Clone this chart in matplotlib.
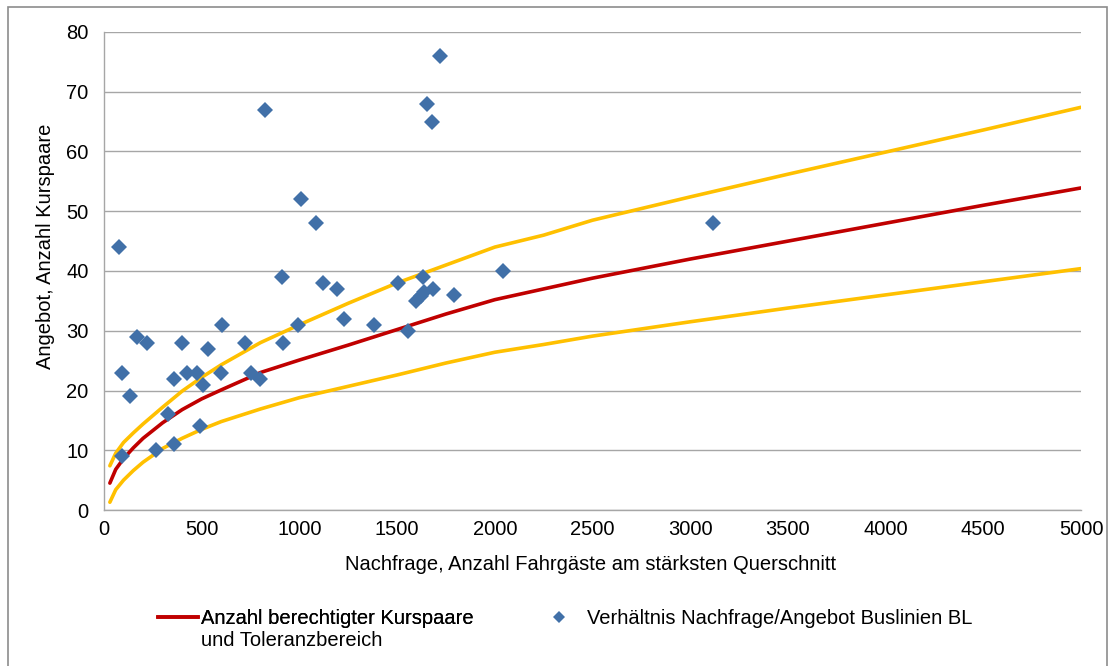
import numpy as np
import matplotlib
matplotlib.use("Agg")
import matplotlib.pyplot as plt
from matplotlib.lines import Line2D
from matplotlib.patches import Rectangle

plt.rcParams['font.family'] = ['Liberation Sans', 'DejaVu Sans']

# Scatter: demand (passengers at busiest section) vs. offer (course pairs)
demand = [77, 90, 94, 131, 167, 218, 264, 326, 360, 360, 397, 426, 476, 493,
          508, 530, 602, 599, 722, 752, 798, 824, 909, 918, 995, 1006, 1083,
          1122, 1191, 1230, 1382, 1506, 1554, 1595, 1620, 1640, 1633, 1651,
          1679, 1685, 1720, 1793, 2044, 3118]
offer = [44, 23, 9, 19, 29, 28, 10, 16, 22, 11, 28, 23, 23, 14,
         21, 27, 31, 23, 28, 23, 22, 67, 39, 28, 31, 52, 48,
         38, 37, 32, 31, 38, 30, 35, 35.8, 36.5, 39, 68,
         65, 37, 76, 36, 40, 48]

# Reference curve and tolerance band
curve_x = [30, 60, 100, 150, 200, 300, 400, 500, 600, 800, 1000, 1250, 1500,
           1750, 2000, 2250, 2500, 3000, 3500, 4000, 4500, 5000]
curve_mid = [4.5, 6.8, 8.6, 10.4, 12.0, 14.6, 16.8, 18.6, 20.1, 23.0, 25.1,
             27.6, 30.2, 32.8, 35.2, 37.0, 38.8, 42.0, 45.0, 48.0, 51.0, 53.9]
curve_high = [7.4, 9.5, 11.3, 12.9, 14.4, 17.2, 19.9, 22.2, 24.3, 28.0, 31.0,
              34.6, 38.0, 41.0, 44.0, 46.0, 48.5, 52.4, 56.2, 59.9, 63.6, 67.4]
curve_low = [1.3, 3.4, 5.0, 6.6, 8.0, 10.3, 12.0, 13.5, 14.8, 16.9, 18.8,
             20.7, 22.6, 24.6, 26.4, 27.7, 29.1, 31.5, 33.8, 36.0, 38.2, 40.4]

x_ticks = np.arange(0, 5001, 500)
y_ticks = np.arange(0, 81, 10)

RED = '#C00000'
YELLOW = '#FFC000'
BLUE = '#4170A8'
GRID = '#A6A6A6'
FS = 14.5

W, H = 1114, 666
fig = plt.figure(figsize=(W / 100, H / 100), dpi=100)
ax = fig.add_axes([104 / W, 1 - 510 / H, 977 / W, 478 / H])

ax.plot(curve_x, curve_high, color=YELLOW, lw=2.6, solid_capstyle='round', zorder=2)
ax.plot(curve_x, curve_low, color=YELLOW, lw=2.6, solid_capstyle='round', zorder=2)
ax.plot(curve_x, curve_mid, color=RED, lw=2.6, solid_capstyle='round', zorder=3)
ax.plot(demand, offer, 'D', color=BLUE, ms=8.5, mew=0, zorder=4)

ax.set_xlim(0, 5000)
ax.set_ylim(0, 80)
ax.set_xticks(x_ticks)
ax.set_yticks(y_ticks)
ax.tick_params(length=0, labelsize=FS, colors='#000000')
ax.tick_params(axis='y', pad=11)
ax.tick_params(axis='x', pad=7)
ax.yaxis.grid(True, color=GRID, lw=1)
ax.set_axisbelow(True)
for s in ['top', 'right']:
    ax.spines[s].set_visible(False)
for s in ['left', 'bottom']:
    ax.spines[s].set_color(GRID)
    ax.spines[s].set_linewidth(1)

ax.set_xlabel('Nachfrage, Anzahl Fahrgäste am stärksten Querschnitt', fontsize=FS, va='center')
ax.xaxis.set_label_coords(0.498, -(565 - 510) / 478)
ax.set_ylabel('Angebot, Anzahl Kurspaare', fontsize=FS, va='center')
ax.yaxis.set_label_coords((46 - 104) / 977, (510 - 246) / 478)

# legend: two separate entries placed like the original
y_leg = 1 - 619 / H
leg1 = fig.legend([Line2D([], [], color=RED, lw=2.6)], ['Anzahl berechtigter Kurspaare'],
                  loc='center left', bbox_to_anchor=(158 / W, y_leg), frameon=False,
                  fontsize=FS, handlelength=2.0, handletextpad=0.15, borderpad=0,
                  borderaxespad=0)
leg2 = fig.legend([Line2D([], [], ls='', marker='D', color=BLUE, ms=6, mew=0)],
                  ['Verhältnis Nachfrage/Angebot Buslinien BL'],
                  loc='center left', bbox_to_anchor=(549 / W, y_leg), frameon=False,
                  fontsize=FS, handlelength=1.0, handletextpad=0.9, borderpad=0,
                  borderaxespad=0)
fig.add_artist(leg1)

fig.canvas.draw()
bb = leg1.get_texts()[0].get_window_extent()
fig.text(bb.x0 / W, (bb.y0 - 22) / H, 'und Toleranzbereich', fontsize=FS,
         ha='left', va='bottom')

# outer chart border
fig.patches.append(Rectangle((8 / W, -0.02), 1099 / W, 1 - 7 / H + 0.02,
                             transform=fig.transFigure, fill=False,
                             edgecolor='#8C8C8C', lw=1.2))

fig.savefig('out.png', dpi=100)
